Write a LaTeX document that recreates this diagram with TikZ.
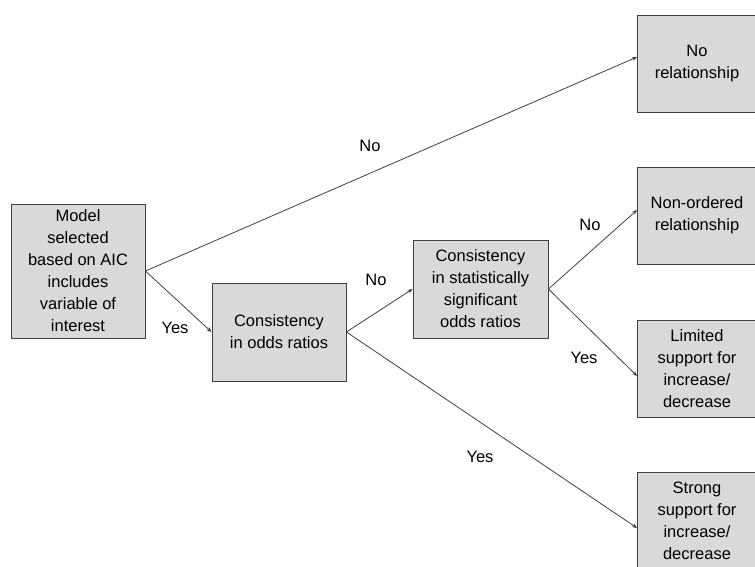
\documentclass[tikz,border=0pt]{standalone}
\usepackage{fontspec}
\setmainfont{Liberation Sans}
\usepackage{tikz}
\usetikzlibrary{arrows.meta}

\definecolor{boxgray}{HTML}{D9D9D9}
\definecolor{linegray}{HTML}{404040}

\tikzset{
  box/.style={draw=linegray,fill=boxgray,line width=0.9pt,align=center,
    minimum width=134pt,minimum height=98pt,inner sep=2pt},
  rbox/.style={box,minimum width=119pt,minimum height=97pt},
  edge/.style={draw=linegray,line width=0.8pt,-{Stealth[length=5pt,width=4pt]}},
  lbl/.style={inner sep=0pt}
}

\begin{document}
\begin{tikzpicture}[x=1pt,y=-1pt,font=\fontsize{16.5}{22}\selectfont]
\useasboundingbox (0,0) rectangle (755,566);
\clip (0,0) rectangle (755,566);
%%%%%%%%%%%%%%%%%%%%%%%%%%%%%%%%
%% decision boxes
%%%%%%%%%%%%%%%%%%%%%%%%%%%%%%%%
\node[box,minimum height=134pt] (model) at (78,271)
  {Model\\selected\\based on AIC\\includes\\variable of\\interest};
\node[box] (odds) at (279,332) {Consistency\\in odds ratios};
\node[box,minimum width=135pt] (sig) at (480.5,289)
  {Consistency\\in statistically\\significant\\odds ratios};
%
%%%%%%%%%%%%%%%%%%%%%%%%%%%%%%%%
%% outcome boxes
%%%%%%%%%%%%%%%%%%%%%%%%%%%%%%%%
\node[rbox] (norel)   at (697,63.5)  {No\\relationship};
\node[rbox] (nonord)  at (697,215.5) {Non-ordered\\relationship};
\node[rbox] (limited) at (697,368.5) {Limited\\support for\\increase/\\decrease};
\node[rbox] (strong)  at (697,520.5) {Strong\\support for\\increase/\\decrease};
%
%%%%%%%%%%%%%%%%%%%%%%%%%%%%%%%%
%% connectors
%%%%%%%%%%%%%%%%%%%%%%%%%%%%%%%%
\draw[edge] (model.east) -- ([yshift=6.5pt]norel.west);
\draw[edge] (model.east) -- (odds.west);
\draw[edge] (odds.east)  -- (sig.west);
\draw[edge] (odds.east)  -- ([yshift=-7.5pt]strong.west);
\draw[edge] (sig.east)   -- ([yshift=5.5pt]nonord.west);
\draw[edge] (sig.east)   -- ([yshift=-7.5pt]limited.west);

\node[lbl] (noA)  at (370,146) {No};
\node[lbl] (yesA) at (175,328) {Yes};
\node[lbl] (noB)  at (376,280) {No};
\node[lbl] (yesB) at (480,457) {Yes};
\node[lbl] (noC)  at (590,225) {No};
\node[lbl] (yesC) at (584,358) {Yes};
\end{tikzpicture}
\end{document}
